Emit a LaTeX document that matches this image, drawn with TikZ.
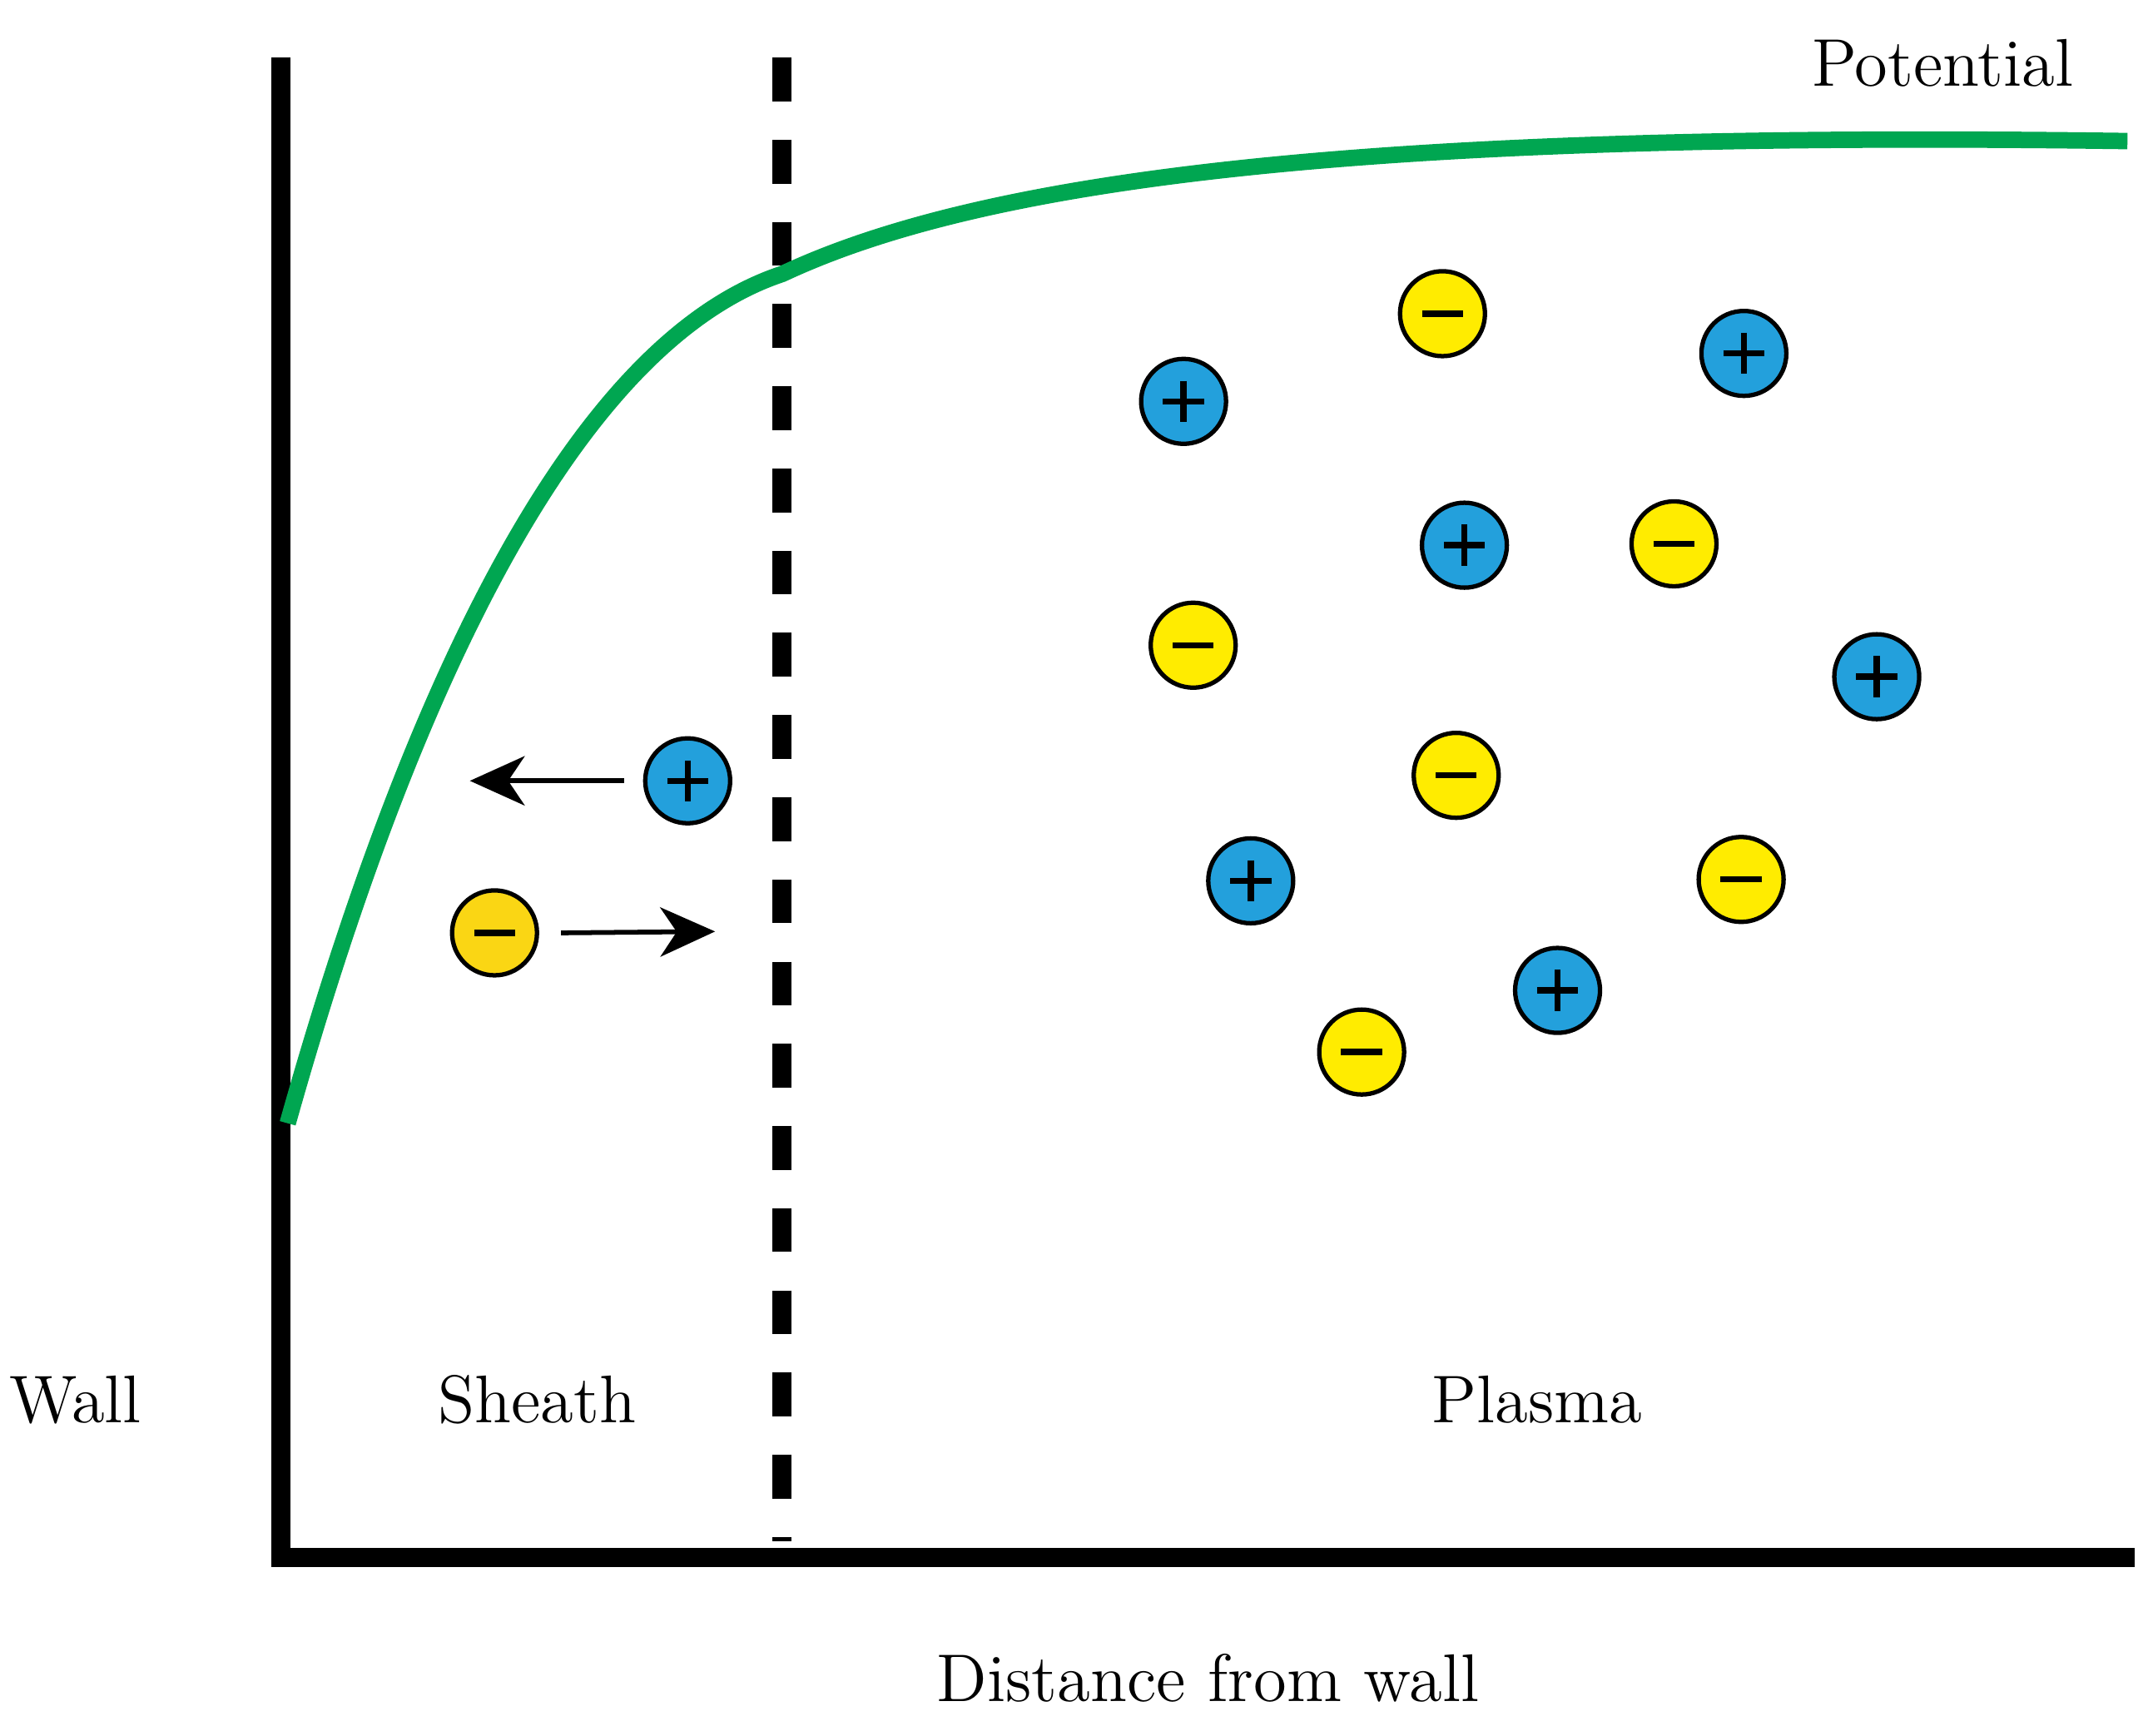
\documentclass[tikz,border=0pt]{standalone}
\usetikzlibrary{arrows.meta,calc}
\definecolor{curvegreen}{RGB}{0,166,81}
\definecolor{ionblue}{RGB}{35,160,220}
\definecolor{elyellow}{RGB}{255,236,0}
\definecolor{elorange}{RGB}{250,214,20}
\begin{document}
\begin{tikzpicture}[x=0.01cm,y=-0.01cm,
  axis/.style={line width=14*0.01cm, black},
  lbl/.style={font=\fontsize{14}{16}\selectfont, inner sep=0pt},
  part/.style={circle, draw=black, line width=3.2*0.01cm, minimum size=62*0.01cm, inner sep=0pt},
  ionpos/.style={part, fill=ionblue, path picture={\draw[line width=4.5*0.01cm] ($(path picture bounding box.center)+(-15,0)$)--++(30,0) ($(path picture bounding box.center)+(0,-15)$)--++(0,30);}},
  elneg/.style={part, fill=elyellow, path picture={\draw[line width=4.5*0.01cm] ($(path picture bounding box.center)+(-15,0)$)--++(30,0);}},
  arr/.style={line width=3.5*0.01cm, -{Stealth[length=40*0.01cm, width=36*0.01cm, inset=12*0.01cm]}}
]
\useasboundingbox (0,0) rectangle (1568,1267);
% axes
\draw[axis] (205,42) -- (205,1137) -- (1558,1137);
% dashed boundary
\draw[axis, dash pattern=on 32*0.01cm off 28*0.01cm] (571,42) -- (571,1125);
% potential curve
\draw[curvegreen, line width=12*0.01cm] (210,820) .. controls (300,500) and (420,250) .. (571,200) .. controls (720,130) and (1000,95) .. (1553,103);
% labels
\node[lbl] (potential) at (1418,46) {Potential};
\node[lbl] (wall) at (55,1022) {Wall};
\node[lbl] (sheath) at (392,1022) {Sheath};
\node[lbl] (plasma) at (1122,1022) {Plasma};
\node[lbl] (dist) at (882,1225) {Distance from wall};
% plasma particles
\node[ionpos] (p1) at (864,293) {};
\node[ionpos] (p2) at (1273,258) {};
\node[ionpos] (p3) at (1069,398) {};
\node[ionpos] (p4) at (1370,494) {};
\node[ionpos] (p5) at (913,643) {};
\node[ionpos] (p6) at (1137,723) {};
\node[elneg] (m1) at (1053,229) {};
\node[elneg] (m2) at (1222,397) {};
\node[elneg] (m3) at (871,471) {};
\node[elneg] (m4) at (1063,566) {};
\node[elneg] (m5) at (1271,642) {};
\node[elneg] (m6) at (994,768) {};
% sheath particles
\node[ionpos] (sp) at (502,570) {};
\node[elneg, fill=elorange] (sm) at (361,681) {};
\coordinate (spend) at (343,570);
\coordinate (smend) at (522,680);
\draw[arr] ($(sp.west)+(-14,0)$) -- (spend);
\draw[arr] ($(sm.east)+(16,0)$) -- (smend);
\end{tikzpicture}
\end{document}
